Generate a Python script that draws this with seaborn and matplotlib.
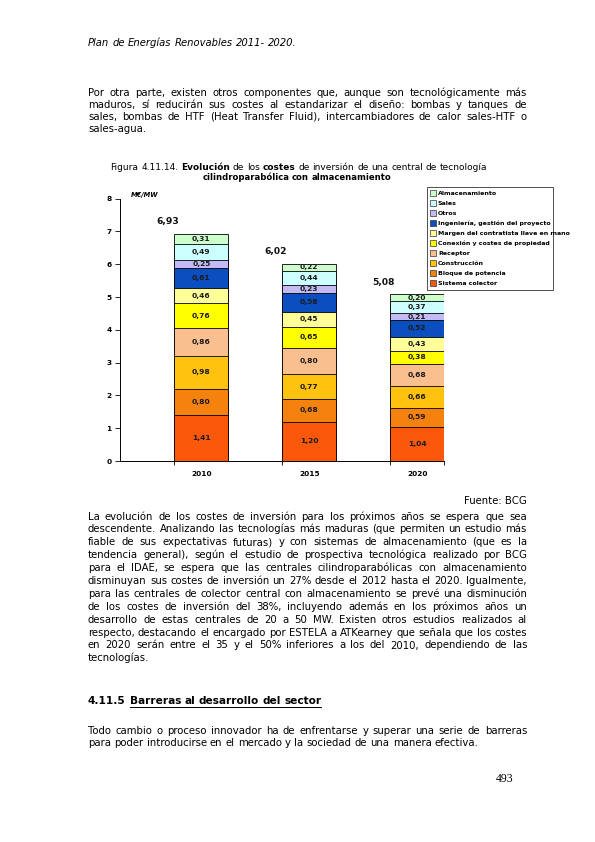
import matplotlib
matplotlib.use("Agg")
import matplotlib.pyplot as plt
import seaborn as sns
import pandas as pd
from matplotlib.patches import Patch
from matplotlib.lines import Line2D

# ---- datos del grafico (M EUR / MW) ----
anios = ["2010", "2015", "2020"]
componentes = ["Sistema colector", "Bloque de potencia", "Construcción", "Receptor",
               "Conexión y costes de propiedad", "Margen del contratista llave en mano",
               "Ingeniería, gestión del proyecto", "Otros", "Sales", "Almacenamiento"]
v2010 = [1.41, 0.80, 0.98, 0.86, 0.76, 0.46, 0.61, 0.25, 0.49, 0.31]
v2015 = [1.20, 0.68, 0.77, 0.80, 0.65, 0.45, 0.58, 0.23, 0.44, 0.22]
v2020 = [1.04, 0.59, 0.66, 0.68, 0.38, 0.43, 0.52, 0.21, 0.37, 0.20]
totales = [6.93, 6.02, 5.08]
colores = ["#FC580C", "#F5820F", "#FFC20E", "#FABF8F", "#FFFF00",
           "#FFFF99", "#0B4EBF", "#C4BAF5", "#CCFFFF", "#CCFFCC"]

# ---- texto de la pagina ----
cabecera = "Plan de Energías Renovables 2011- 2020."
parrafo1 = ["Por otra parte, existen otros componentes que, aunque son tecnológicamente más",
            "maduros, sí reducirán sus costes al estandarizar el diseño: bombas y tanques de",
            "sales, bombas de HTF (Heat Transfer Fluid), intercambiadores de calor sales-HTF o",
            "sales-agua."]
parrafo2 = ["La evolución de los costes de inversión para los próximos años se espera que sea",
            "descendente. Analizando las tecnologías más maduras (que permiten un estudio más",
            "fiable de sus expectativas futuras) y con sistemas de almacenamiento (que es la",
            "tendencia general), según el estudio de prospectiva tecnológica realizado por BCG",
            "para el IDAE, se espera que las centrales cilindroparabólicas con almacenamiento",
            "disminuyan sus costes de inversión un 27% desde el 2012 hasta el 2020. Igualmente,",
            "para las centrales de colector central con almacenamiento se prevé una disminución",
            "de los costes de inversión del 38%, incluyendo además en los próximos años un",
            "desarrollo de estas centrales de 20 a 50 MW. Existen otros estudios realizados al",
            "respecto, destacando el encargado por ESTELA a ATKearney que señala que los costes",
            "en 2020 serán entre el 35 y el 50% inferiores a los del 2010, dependiendo de las",
            "tecnologías."]
parrafo3 = ["Todo cambio o proceso innovador ha de enfrentarse y superar una serie de barreras",
            "para poder introducirse en el mercado y la sociedad de una manera efectiva."]

plt.rcParams['font.family'] = ['DejaVu Sans']
W, H = 595, 842
fig = plt.figure(figsize=(W / 100, H / 100), dpi=100)
renderer = fig.canvas.get_renderer()


def ancho(txt, **kw):
    t = fig.text(0, 0, txt, **kw)
    w = t.get_window_extent(renderer).width
    t.remove()
    return w


def linea(trozos, x, y, size, ancho_total=None, centro=False, estilo="normal", familia=None):
    # trozos: lista de (palabra, peso); y es la linea base en pixeles
    kw = dict(fontsize=size, fontstyle=estilo)
    if familia:
        kw["family"] = familia
    anchos = [ancho(p, fontweight=w, **kw) for p, w in trozos]
    esp = 0.318 * size * 100 / 72
    if ancho_total and len(trozos) > 1:
        esp = (ancho_total - sum(anchos)) / (len(trozos) - 1)
    total = sum(anchos) + esp * (len(trozos) - 1)
    if centro:
        x = x - total / 2
    pos = []
    for (p, w), a in zip(trozos, anchos):
        fig.text(x / W, 1 - y / H, p, fontweight=w, va="baseline", ha="left", **kw)
        pos.append((x, x + a))
        x += a + esp
    return pos


def parrafo(lineas, x0, x1, y0, paso, size):
    for i, l in enumerate(lineas):
        trozos = [(p, "normal") for p in l.split()]
        ultima = i == len(lineas) - 1
        linea(trozos, x0, y0 + i * paso, size, None if ultima else x1 - x0)


TAM = 7.3
linea([(p, "normal") for p in cabecera.split()], 88, 45.5, 7.2, estilo="italic")
parrafo(parrafo1, 88, 527, 95.5, 12.1, TAM)

# ---- titulo de la figura ----
tit1 = [("Figura", "normal"), ("4.11.14.", "normal"), ("Evolución", "bold"), ("de", "normal"),
        ("los", "normal"), ("costes", "bold"), ("de", "normal"), ("inversión", "normal"),
        ("de", "normal"), ("una", "normal"), ("central", "normal"), ("de", "normal"),
        ("tecnología", "normal")]
tit2 = [("cilindroparabólica", "bold"), ("con", "bold"), ("almacenamiento", "bold")]
linea(tit1, 299, 169.5, 6.45, centro=True)
linea(tit2, 297, 180, 6.1, centro=True)

# ---- grafico de barras apiladas ----
filas = []
for anio, vals in zip(anios, [v2010, v2015, v2020]):
    acum = 0
    for comp, v in zip(componentes, vals):
        filas.append({"anio": anio, "componente": comp, "valor": v,
                      "base": acum, "cum": acum + v})
        acum += v
df = pd.DataFrame(filas)

ax = fig.add_axes([120 / W, 1 - 461 / H, 324.3 / W, 262.4 / H])
for comp, col in reversed(list(zip(componentes, colores))):
    sub = df[df["componente"] == comp]
    sns.barplot(data=sub, x="anio", y="cum", order=anios, color=col, saturation=1,
                width=0.5, edgecolor="black", linewidth=0.6, errorbar=None, ax=ax)

for _, r in df.iterrows():
    ax.text(anios.index(r["anio"]), (r["base"] + r["cum"]) / 2,
            f"{r['valor']:.2f}".replace(".", ","), ha="center", va="center",
            fontsize=5.4, fontweight="bold", color="#1a1a1a")
for i, t in enumerate(totales):
    ax.text(i - 0.31, t + 0.36, f"{t:.2f}".replace(".", ","), ha="center", va="center",
            fontsize=6.6, fontweight="bold", color="#111111")

ax.set_xlim(-0.753, 2.25)
ax.set_ylim(0, 8)
ax.set_yticks(range(0, 9))
ax.set_xticks(range(3))
ax.set_xticklabels(anios)
ax.set_xticks([-0.25, 0.75, 1.75, 2.25], minor=True)
ax.set_xlabel("")
ax.set_ylabel("")
ax.tick_params(axis="x", which="major", length=0, pad=7, labelsize=5.3)
ax.tick_params(axis="x", which="minor", length=3, width=0.6, direction="out")
ax.tick_params(axis="y", length=3.5, width=0.6, direction="out", pad=2.5, labelsize=5.3)
for lab in ax.get_xticklabels() + ax.get_yticklabels():
    lab.set_fontweight("bold")
for s in ["top", "right"]:
    ax.spines[s].set_visible(False)
for s in ["left", "bottom"]:
    ax.spines[s].set_linewidth(0.7)
ax.set_facecolor("white")
fig.text(131 / W, 1 - 197 / H, "M€/MW", fontsize=4.8, fontweight="bold", fontstyle="italic")

manejadores = [Patch(facecolor=c, edgecolor="#333333", linewidth=0.5, label=n)
               for n, c in zip(componentes, colores)][::-1]
leg = ax.legend(handles=manejadores, loc="upper left", mode="expand",
                bbox_to_anchor=(427 / W, 1 - 187 / H, 126 / W, 0),
                bbox_transform=fig.transFigure, fontsize=4.5, frameon=True,
                fancybox=False, edgecolor="black", handlelength=0.9, handleheight=0.9,
                handletextpad=0.3, labelspacing=0.68, borderpad=0.55, borderaxespad=0)
leg.get_frame().set_linewidth(0.6)
for t in leg.get_texts():
    t.set_fontweight("bold")

# ---- resto de la pagina ----
fig.text(527 / W, 1 - 503.5 / H, "Fuente: BCG", fontsize=TAM, ha="right", va="baseline")
parrafo(parrafo2, 88, 527, 519.5, 12.9, TAM)

linea([("4.11.5", "bold")], 88, 704, 7.6)
pos = linea([(p, "bold") for p in "Barreras al desarrollo del sector".split()], 130, 704, 7.6)
fig.add_artist(Line2D([pos[0][0] / W, pos[-1][1] / W], [1 - 706.5 / H, 1 - 706.5 / H],
                      color="black", linewidth=0.7))
parrafo(parrafo3, 88, 527, 733.5, 12.8, TAM)

fig.text(505 / W, 1 - 782 / H, "493", fontsize=8.5, ha="center", va="baseline",
         family="Liberation Serif")

fig.savefig("out.png", dpi=100, facecolor="white")
